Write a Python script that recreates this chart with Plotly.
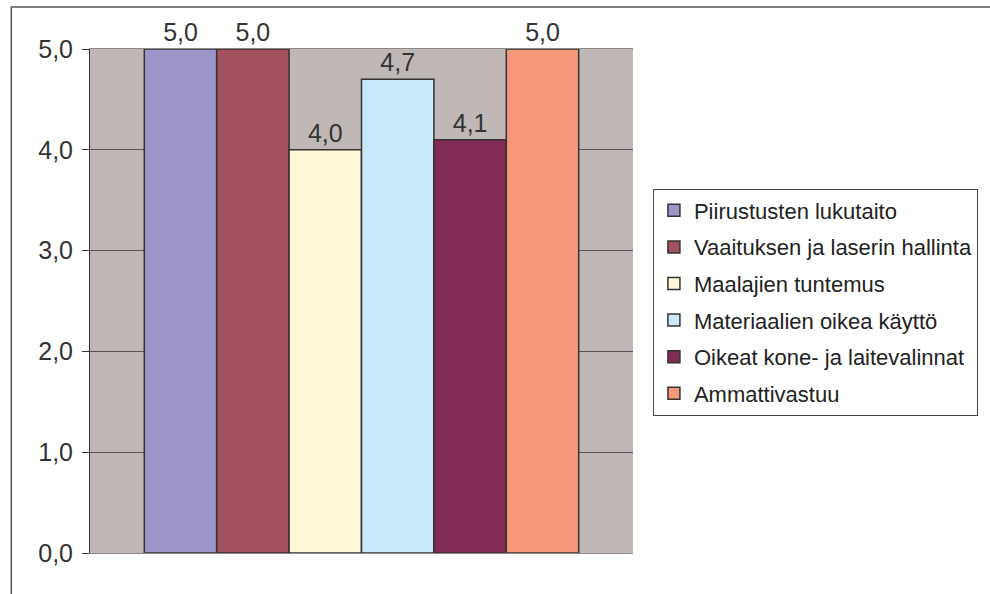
import plotly.graph_objects as go

# Skill ratings per area (scale 0-5)
skills = [
    "Piirustusten lukutaito",
    "Vaaituksen ja laserin hallinta",
    "Maalajien tuntemus",
    "Materiaalien oikea käyttö",
    "Oikeat kone- ja laitevalinnat",
    "Ammattivastuu",
]
scores = [5.0, 5.0, 4.0, 4.7, 4.1, 5.0]
colors = ["#9C95C8", "#A3505F", "#FEF8D6", "#C8E9F8", "#822B56", "#F59879"]
y_ticks = [0, 1, 2, 3, 4, 5]

W, H = 990, 594
L, R, T, B = 90, 355, 49, 41
pw, ph = W - L - R, H - T - B
FONT = "Liberation Sans, Arial, sans-serif"

fig = go.Figure()
for i, (name, val, col) in enumerate(zip(skills, scores, colors)):
    fig.add_trace(go.Bar(
        x=[""], y=[val], name=name, legendgroup=f"g{i}",
        marker=dict(color=col, line=dict(color="#333333", width=1.5)),
        texttemplate="%{y:.1f}", textposition="outside",
        textfont=dict(family=FONT, size=25, color="#333333"),
        cliponaxis=False,
    ))

fig.update_layout(
    width=W, height=H,
    margin=dict(l=L, r=R, t=T, b=B),
    paper_bgcolor="white",
    plot_bgcolor="#C0B8B6",
    separators=", ",
    barmode="group",
    bargap=0.2,
    bargroupgap=0,
    font=dict(family=FONT, size=25, color="#333333"),
    showlegend=True,
    legend=dict(
        x=(655 - L) / pw, xanchor="left",
        y=(H - B - 302) / ph, yanchor="middle",
        bordercolor="#444444", borderwidth=1,
        bgcolor="white",
        font=dict(size=22, color="#222222"),
        traceorder="grouped",
        tracegroupgap=5,
    ),
    xaxis=dict(showticklabels=False, showgrid=False, zeroline=False,
               range=[-0.5, 0.5], showline=True, linecolor="#8F8785", mirror=True),
    yaxis=dict(
        range=[0, 5], tickvals=y_ticks, tickformat=".1f",
        showgrid=True, gridcolor="#555555", gridwidth=1,
        ticks="outside", ticklen=7, tickcolor="#333333",
        ticklabelstandoff=4,
        showline=True, linecolor="#333333", linewidth=1,
        zeroline=False, layer="below traces",
        tickfont=dict(size=25, color="#333333"),
    ),
    shapes=[
        dict(type="rect", xref="paper", yref="paper",
             x0=(11 - L) / pw, x1=(W + 20 - L) / pw,
             y0=(H - B - (H + 20)) / ph, y1=(H - B - 7) / ph,
             line=dict(color="#555555", width=1.5), layer="below"),
    ],
)

fig.write_html("out.html")
